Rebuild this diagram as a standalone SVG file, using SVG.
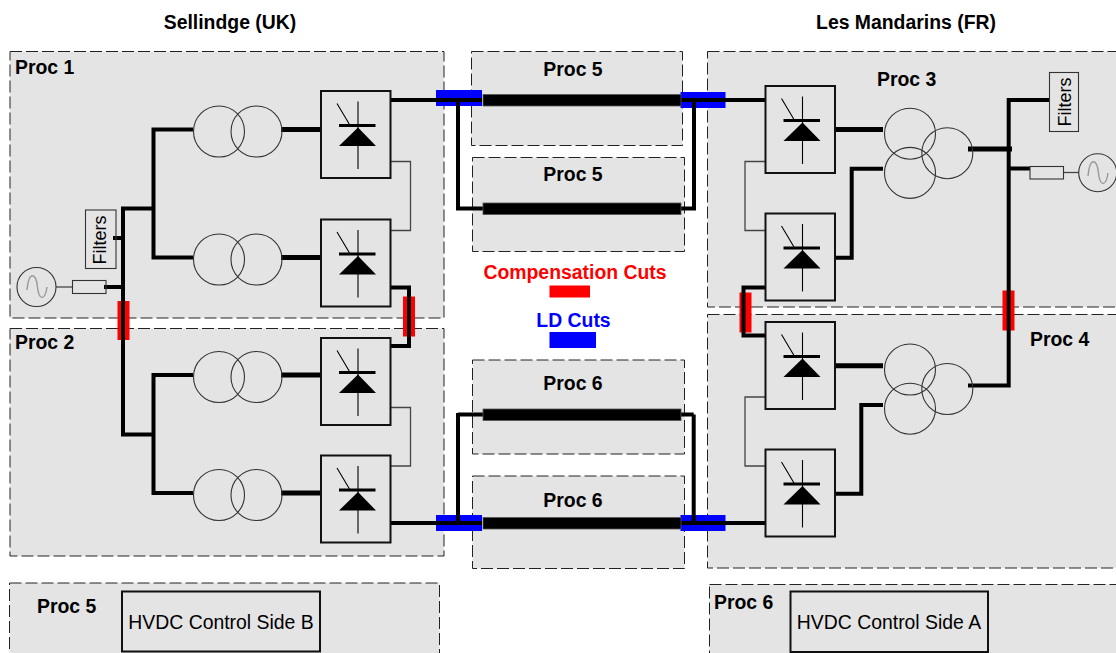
<svg xmlns="http://www.w3.org/2000/svg" width="1116" height="653" viewBox="0 0 1116 653">
<style>
text{font-family:"Liberation Sans",Arial,sans-serif;font-size:19.4px;fill:#000}
.b{font-weight:bold}
.m{text-anchor:middle}
.proc{fill:#e4e4e4;stroke:#222;stroke-width:1;stroke-dasharray:12 4}
.box{fill:#e4e4e4;stroke:#111;stroke-width:2}
.tb{fill:none;stroke:#333;stroke-width:1.1}
.thin{fill:none;stroke:#444;stroke-width:1.3}
.w{fill:none;stroke:#000;stroke-width:4;stroke-linejoin:miter}
.w4{fill:none;stroke:#000;stroke-width:5}
.sym{fill:none;stroke:#000;stroke-width:1.1}
.wave{fill:none;stroke:#999;stroke-width:1.4}
.cable{fill:#000;stroke:#555;stroke-width:.8}
.red{fill:#f00}
.blue{fill:#00f}
</style>
<defs>
<g id="conv">
<rect class="box" x="0" y="0" width="69.500" height="87"/>
<path class="sym" d="M37 10.500V78M16 12.500L28.500 33.500"/>
<path d="M18 33H54.500V36H18Z"/>
<path d="M37 36.500L55 55H18Z"/>
</g>
<g id="xf2"><circle class="tb" cx="0" cy="0" r="25.500"/><circle class="tb" cx="37.500" cy="0" r="25.500"/></g>
<g id="xf3"><circle class="tb" cx="0" cy="0" r="25.500"/><circle class="tb" cx="0" cy="39.200" r="25.500"/><circle class="tb" cx="37.300" cy="19.500" r="25.500"/></g>
</defs>
<rect width="1116" height="653" fill="#fff"/>
<g id="regions">
<rect id="proc1" class="proc" x="10" y="51.500" width="434" height="266.500"/>
<rect id="proc2" class="proc" x="10" y="328.500" width="434" height="227.500"/>
<rect id="proc5-ctl" class="proc" x="9.500" y="583" width="430" height="75"/>
<rect id="proc5a" class="proc" x="471.500" y="51.500" width="211" height="94"/>
<rect id="proc5b" class="proc" x="472.500" y="157.500" width="212" height="94"/>
<rect id="proc6a" class="proc" x="472.500" y="360" width="212" height="94"/>
<rect id="proc6b" class="proc" x="472.500" y="476" width="212" height="92.500"/>
<rect id="proc3" class="proc" x="707.500" y="51.500" width="420" height="255.500"/>
<rect id="proc4" class="proc" x="707.500" y="314.500" width="420" height="253.500"/>
<rect id="proc6-ctl" class="proc" x="709.500" y="584.500" width="420" height="75"/>
</g>
<g id="cuts">
<rect class="red" x="117.500" y="301" width="12" height="39"/>
<rect class="red" x="403" y="296.500" width="12" height="40"/>
<rect class="red" x="739.500" y="292.500" width="12" height="40"/>
<rect class="red" x="1002.500" y="290.500" width="12" height="40"/>
<rect class="blue" x="436" y="90" width="46" height="16"/>
<rect class="blue" x="680.500" y="92" width="45" height="16"/>
<rect class="blue" x="436" y="515" width="46" height="16"/>
<rect class="blue" x="680.500" y="515" width="45" height="16"/>
</g>
<g id="connectors">
<path class="w" d="M193 129.500H153.500V257.500H193M123 287V208.500H153.500M123 287V434.500H153.500M193 375H153.500V493H193"/>
<path class="w4" d="M281 129.500H321M281 257.500H321M281 375H321M281 493H321"/>
<path class="w" d="M123 287H104M123 238H113"/>
<path class="thin" d="M56 287H72.500"/>
<path class="thin" d="M390.500 161.500H410.500V230.500H390.500M390.500 407.500H410.500V466H390.500M765.500 161.500H745V230.500H765.500M765.500 397H745V466H765.500"/>
<path class="w" d="M389 287.500H409V346H389"/>
<path class="w" d="M389 100H482M458 99V208.500H483M681 100H766M694 98V208.500H681M389 523H482M458 413V523M458 414.500H483M681 523H766M693.700 414.500V522M693.700 414.500H681"/>
<rect class="cable" x="483" y="94.500" width="198" height="11.500"/>
<rect class="cable" x="483" y="203" width="198" height="11.500"/>
<rect class="cable" x="483" y="409" width="198" height="11.500"/>
<rect class="cable" x="483" y="517.500" width="198" height="11.500"/>
<path class="w" d="M766 287.500H743.500V335.500H766"/>
<path class="w" d="M1049.500 100H1008.700V385.500H968"/>
<path class="w4" d="M968 149H1012"/>
<path class="w" d="M1008 168.500H1030"/>
<path class="thin" d="M1063.700 172.500H1079"/>
<path class="w4" d="M831 129.500H883"/>
<path class="w" d="M831 257.700H851.700V168.700H883"/>
<path class="w4" d="M831 365.700H883"/>
<path class="w" d="M831 493.700H861.300V405H883"/>
</g>
<g id="sellindge-side">
<g id="conv1"><use href="#conv" x="321" y="91"/></g>
<g id="conv2"><use href="#conv" x="321" y="219.500"/></g>
<g id="conv3"><use href="#conv" x="321" y="338"/></g>
<g id="conv4"><use href="#conv" x="321" y="455.500"/></g>
<g id="xf1"><use href="#xf2" x="219" y="131.500"/></g>
<g id="xf-2"><use href="#xf2" x="219" y="259.500"/></g>
<g id="xf-3"><use href="#xf2" x="219" y="377"/></g>
<g id="xf-4"><use href="#xf2" x="219" y="495"/></g>
<g id="filters-l"><rect class="tb" x="85.500" y="210" width="30.500" height="58.500"/><text class="m" transform="translate(106 240) rotate(-90)" style="font-size:18px">Filters</text></g>
<g id="res-l"><rect class="tb" x="72.500" y="280.500" width="33.500" height="13"/></g>
<g id="source-l"><circle class="tb" cx="36.500" cy="287" r="19.500"/><path class="wave" d="M27 290C29 270 36 273 37.500 287C39 301 45 301 47 287"/></g>
</g>
<g id="mandarins-side">
<g id="conv5"><use href="#conv" x="765.500" y="86"/></g>
<g id="conv6"><use href="#conv" x="765.500" y="213.500"/></g>
<g id="conv7"><use href="#conv" x="765.500" y="322"/></g>
<g id="conv8"><use href="#conv" x="765.500" y="449.500"/></g>
<g id="xf5"><use href="#xf3" x="910" y="133.700"/></g>
<g id="xf6"><use href="#xf3" x="910" y="369.500"/></g>
<g id="filters-r"><rect class="tb" x="1049.500" y="72.500" width="29" height="59"/><text class="m" transform="translate(1070.500 102) rotate(-90)" style="font-size:18px">Filters</text></g>
<g id="res-r"><rect class="tb" x="1030" y="166.500" width="33.500" height="12.500"/></g>
<g id="source-r"><circle class="tb" cx="1097.700" cy="172.700" r="19"/><path class="wave" d="M1088 176C1090 156 1097 159 1098.500 173C1100 187 1106 187 1108 173"/></g>
</g>
<g id="control">
<g id="hvdc-b"><rect class="box" x="122" y="591.500" width="198" height="60"/><text class="m" x="221" y="629">HVDC Control Side B</text></g>
<g id="hvdc-a"><rect class="box" x="790.500" y="591.500" width="197.500" height="60.500"/><text class="m" x="889" y="629">HVDC Control Side A</text></g>
</g>
<g id="labels">
<text class="b m" x="230" y="29">Sellindge (UK)</text>
<text class="b m" x="906" y="29">Les Mandarins (FR)</text>
<text class="b" x="15" y="74">Proc 1</text>
<text class="b" x="15" y="349">Proc 2</text>
<text class="b" x="877" y="86">Proc 3</text>
<text class="b" x="1030" y="346">Proc 4</text>
<text class="b m" x="573" y="75.500">Proc 5</text>
<text class="b m" x="573" y="180.500">Proc 5</text>
<text class="b m" x="573" y="389.500">Proc 6</text>
<text class="b m" x="573" y="506.500">Proc 6</text>
<text class="b" x="37" y="613">Proc 5</text>
<text class="b" x="714" y="609">Proc 6</text>
<text class="b m" x="575" y="279" style="fill:#f00">Compensation Cuts</text>
<rect class="red" x="549.500" y="285.500" width="40.500" height="12"/>
<text class="b m" x="573.500" y="327" style="fill:#00f">LD Cuts</text>
<rect class="blue" x="549.500" y="332" width="46.500" height="16"/>
</g>
</svg>
